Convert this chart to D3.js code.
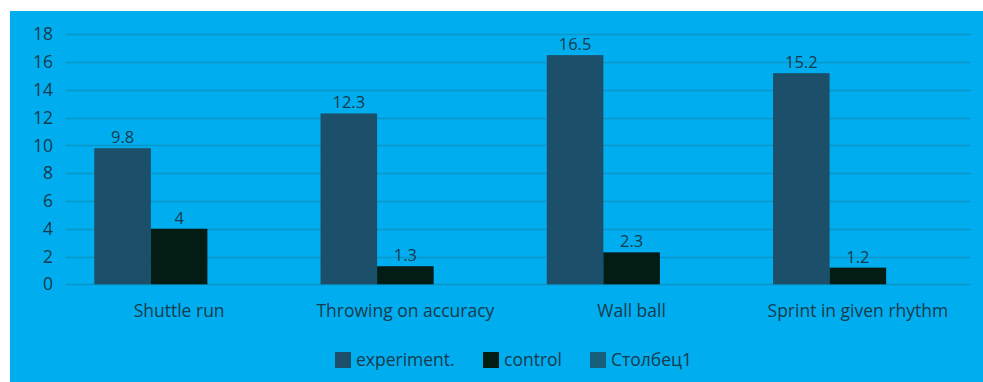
<!DOCTYPE html>
<html>
<head>
<meta charset="utf-8">
<script src="https://cdn.jsdelivr.net/npm/d3@7"></script>
<style>
  html, body { margin: 0; padding: 0; background: #ffffff; }
  svg { display: block; }
  text { font-family: "Open Sans", "Noto Sans", sans-serif; fill: #173b4d; }
</style>
</head>
<body>
<svg id="chart" width="983" height="382"></svg>
<script>
// Chart data
const categories = ["Shuttle run", "Throwing on accuracy", "Wall ball", "Sprint in given rhythm"];
const seriesNames = ["experiment.", "control", "Столбец1"];
const experiment = [9.8, 12.3, 16.5, 15.2];
const control = [4, 1.3, 2.3, 1.2];
const stolbets1 = [null, null, null, null];
const yTicks = [0, 2, 4, 6, 8, 10, 12, 14, 16, 18];

const seriesValues = [experiment, control, stolbets1];
const seriesColors = ["#1c4f69", "#031c14", "#176079"];

const W = 983, H = 382;
const FONT = "\"Open Sans\", \"Noto Sans\", sans-serif";
const svg = d3.select("#chart");

// Blue chart panel
svg.append("rect")
  .attr("x", 10).attr("y", 11)
  .attr("width", W - 10).attr("height", H - 11)
  .attr("fill", "#00aeef");

const plot = { left: 66, right: 971, top: 34.3, bottom: 284.3 };

const x = d3.scaleBand()
  .domain(categories)
  .range([plot.left, plot.right])
  .paddingInner(0).paddingOuter(0);

const y = d3.scaleLinear()
  .domain([0, 18])
  .range([plot.bottom, plot.top]);

// Horizontal gridlines
svg.append("g")
  .selectAll("line")
  .data(yTicks)
  .join("line")
  .attr("x1", plot.left).attr("x2", plot.right)
  .attr("y1", d => Math.round(y(d)) + 0.5).attr("y2", d => Math.round(y(d)) + 0.5)
  .attr("stroke", "#0b94c6").attr("stroke-width", 1.5);

// Y axis labels
const yAxis = d3.axisLeft(y).tickValues(yTicks).tickSize(0).tickPadding(13);
const yg = svg.append("g").attr("transform", `translate(${plot.left},0)`).call(yAxis);
yg.select(".domain").remove();
yg.selectAll("text").attr("font-size", 17.5).attr("fill", "#173b4d")
  .style("font-family", FONT);

// Grouped bars: three slots per category, gap equal to one bar width
const inner = d3.scaleBand()
  .domain(d3.range(seriesNames.length))
  .range([0, x.bandwidth()])
  .paddingInner(0)
  .paddingOuter(0.5);

const groups = svg.append("g")
  .selectAll("g")
  .data(categories)
  .join("g")
  .attr("transform", d => `translate(${x(d)},0)`);

const barData = (c, ci) => seriesValues.map((vals, si) => ({ si, v: vals[ci] }))
  .filter(d => d.v != null);

groups.each(function (c, ci) {
  const g = d3.select(this);
  const bars = barData(c, ci);
  g.selectAll("rect")
    .data(bars)
    .join("rect")
    .attr("x", d => inner(d.si))
    .attr("width", inner.bandwidth())
    .attr("y", d => y(d.v))
    .attr("height", d => y(0) - y(d.v))
    .attr("fill", d => seriesColors[d.si]);
  g.selectAll("text.val")
    .data(bars)
    .join("text")
    .attr("class", "val")
    .attr("x", d => inner(d.si) + inner.bandwidth() / 2)
    .attr("y", d => y(d.v) - 5)
    .attr("text-anchor", "middle")
    .attr("font-size", 16.5)
    .text(d => d.v);
});

// Category labels
const xAxis = d3.axisBottom(x).tickSize(0).tickPadding(20);
const xg = svg.append("g").attr("transform", `translate(0,${plot.bottom})`).call(xAxis);
xg.select(".domain").remove();
xg.selectAll("text").attr("font-size", 17.5).attr("fill", "#173b4d")
  .style("font-family", FONT);

// Legend
const legendX = [335, 483, 590];
const legend = svg.append("g")
  .selectAll("g")
  .data(seriesNames)
  .join("g")
  .attr("transform", (d, i) => `translate(${legendX[i]},352)`);
legend.append("rect")
  .attr("width", 16).attr("height", 16)
  .attr("fill", (d, i) => seriesColors[i]);
legend.append("text")
  .attr("x", 21).attr("y", 14)
  .attr("font-size", 17.5)
  .text(d => d);
</script>
</body>
</html>
